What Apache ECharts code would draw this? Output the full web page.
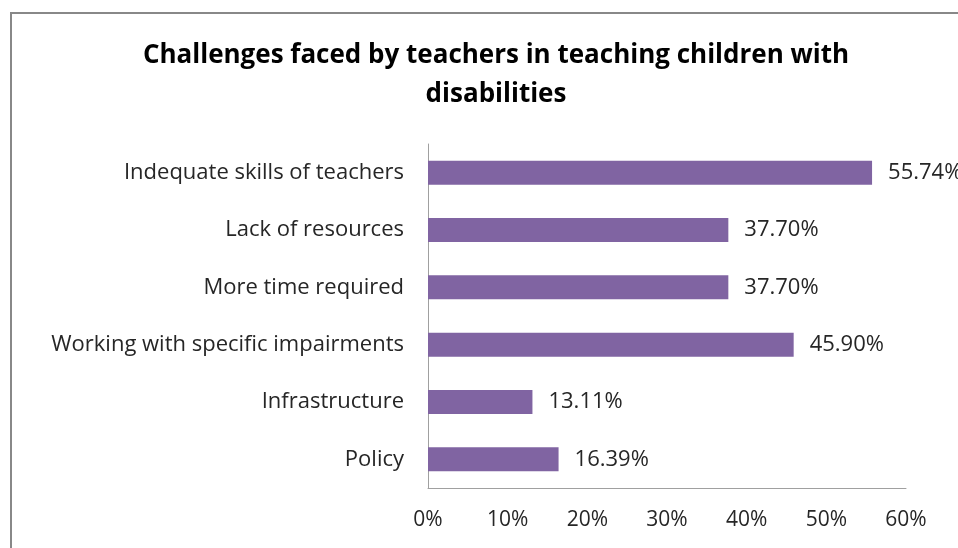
<!DOCTYPE html>
<html>
<head>
<meta charset="utf-8">
<script src="https://cdn.jsdelivr.net/npm/echarts@6/dist/echarts.min.js"></script>
<style>
  html, body { margin: 0; padding: 0; background: #ffffff; }
  #chart { width: 958px; height: 548px; }
</style>
</head>
<body>
<div id="chart"></div>
<script>
// Challenges reported by teachers (share of respondents, %)
const categories = [
  'Indequate skills of teachers',
  'Lack of resources',
  'More time required',
  'Working with specific impairments',
  'Infrastructure',
  'Policy'
];
const shares = [55.74, 37.70, 37.70, 45.90, 13.11, 16.39];
const axisTicks = [0, 10, 20, 30, 40, 50, 60];

const FONT = '"Open Sans", "Noto Sans", sans-serif';
const chart = echarts.init(document.getElementById('chart'));

chart.setOption({
  animation: false,
  backgroundColor: '#ffffff',
  title: {
    text: 'Challenges faced by teachers in teaching children with\ndisabilities',
    left: 491,
    top: 31,
    textAlign: 'center',
    textStyle: {
      fontFamily: FONT,
      fontWeight: 'bold',
      fontSize: 26,
      lineHeight: 39,
      color: '#000000'
    }
  },
  graphic: [{
    type: 'rect',
    shape: { x: 11, y: 13, width: 1000, height: 600 },
    style: { fill: 'none', stroke: '#888888', lineWidth: 2 },
    silent: true
  }],
  grid: { left: 428, right: 52, top: 144, bottom: 60, containLabel: false },
  xAxis: {
    type: 'value',
    min: axisTicks[0],
    max: axisTicks[axisTicks.length - 1],
    interval: axisTicks[1] - axisTicks[0],
    axisLine: { show: true, lineStyle: { color: '#a0a0a0', width: 1 } },
    axisTick: { show: false },
    splitLine: { show: false },
    axisLabel: {
      formatter: v => v + '%',
      fontFamily: FONT,
      fontSize: 21,
      color: '#262626',
      margin: 22
    }
  },
  yAxis: {
    type: 'category',
    data: categories,
    inverse: true,
    axisLine: { show: true, lineStyle: { color: '#a0a0a0', width: 1 } },
    axisTick: { show: false },
    axisLabel: {
      fontFamily: FONT,
      fontSize: 22,
      color: '#262626',
      margin: 24,
      padding: [3, 0, 0, 0]
    }
  },
  series: [{
    type: 'bar',
    data: shares,
    barWidth: 24,
    itemStyle: { color: '#8064A2' },
    label: {
      show: true,
      position: 'right',
      distance: 16,
      formatter: p => p.value.toFixed(2) + '%',
      fontFamily: FONT,
      fontSize: 22,
      color: '#262626',
      padding: [3, 0, 0, 0]
    }
  }]
});
</script>
</body>
</html>
